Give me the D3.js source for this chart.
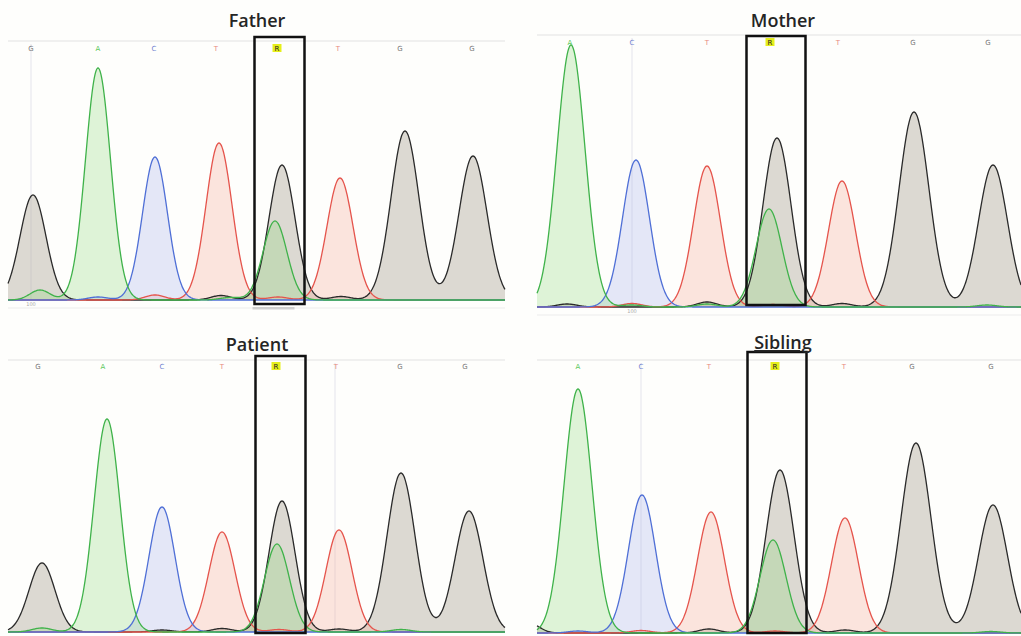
<!DOCTYPE html>
<html>
<head>
<meta charset="utf-8">
<script src="https://cdn.jsdelivr.net/npm/d3@7"></script>
<style>
  body { margin: 0; background: #fff; }
  svg { display: block; }
  .title { font-family: "Open Sans", sans-serif; font-size: 18px; font-weight: 600; fill: #252525; }
  .base { font-family: "DejaVu Sans", sans-serif; font-size: 7px; }
  .tick { font-family: "DejaVu Sans", sans-serif; font-size: 5px; fill: #aaa; }
</style>
</head>
<body>
<div id="chart"></div>
<script>
// sample names
const panelNames = ["Father", "Mother", "Patient", "Sibling"];

// called bases and their scan positions
const fatherBases = ["G", "A", "C", "T", "R", "T", "G", "G"];
const fatherBasePos = [23, 90, 146, 208, 269, 330, 392, 464];
const motherBases = ["A", "C", "T", "R", "T", "G", "G"];
const motherBasePos = [33, 95, 170, 233, 301, 376, 451];
const patientBases = ["G", "A", "C", "T", "R", "T", "G", "G"];
const patientBasePos = [30, 95, 154, 214, 268, 328, 392, 457];
const siblingBases = ["A", "C", "T", "R", "T", "G", "G"];
const siblingBasePos = [41, 104, 172, 238, 307, 375, 454];

// main peaks: channel, scan position, signal height, width
const fatherPeakCh = ["G", "A", "C", "T", "G", "A", "T", "G", "G"];
const fatherPeakPos = [25, 90, 147, 211, 274, 267, 332, 397, 465];
const fatherPeakHt = [420, 928, 572, 628, 540, 316, 488, 676, 576];
const fatherPeakW = [13, 12.5, 12.5, 13, 13, 12, 13, 14, 14];

const motherPeakCh = ["A", "C", "T", "G", "A", "T", "G", "G"];
const motherPeakPos = [34, 99, 170, 240, 232, 305, 377, 456];
const motherPeakHt = [1048, 588, 564, 676, 392, 504, 780, 568];
const motherPeakW = [14, 13.5, 13.5, 14, 13, 13.5, 15, 14.5];

const patientPeakCh = ["G", "A", "C", "T", "G", "A", "T", "G", "G"];
const patientPeakPos = [34, 99, 154, 214, 274, 269, 331, 393, 461];
const patientPeakHt = [276, 852, 500, 400, 524, 352, 408, 636, 484];
const patientPeakW = [13, 13, 13, 13, 13, 12.5, 13, 14, 14];

const siblingPeakCh = ["A", "C", "T", "G", "A", "T", "G", "G"];
const siblingPeakPos = [41, 105, 174, 243, 236, 308, 379, 456];
const siblingPeakHt = [976, 552, 484, 652, 372, 460, 760, 512];
const siblingPeakW = [14, 13.5, 13.5, 14, 13, 13.5, 15, 14.5];

// small background bumps
const fatherMinorCh = ["A", "C", "T", "G", "A", "T", "G"];
const fatherMinorPos = [32, 90, 147, 213, 222, 270, 333];
const fatherMinorHt = [40, 12, 20, 18, 10, 12, 14];

const motherMinorCh = ["G", "T", "A", "G", "A", "T", "G", "A"];
const motherMinorPos = [30, 95, 95, 170, 170, 236, 305, 450];
const motherMinorHt = [12, 14, 8, 20, 12, 10, 14, 8];

const patientMinorCh = ["A", "G", "G", "T", "G", "A"];
const patientMinorPos = [34, 154, 214, 271, 331, 393];
const patientMinorHt = [16, 8, 14, 10, 12, 10];

const siblingMinorCh = ["C", "T", "G", "T", "G", "A", "G"];
const siblingMinorPos = [41, 104, 172, 238, 308, 454, -8];
const siblingMinorHt = [8, 10, 16, 8, 12, 6, 40];

// cursor line scan per panel, and position tick label
const cursorPos = [23, 95, 327, 104];
const tickLabels = ["100", "100", "", ""];

const channels = ["G", "T", "C", "A"];
const lineColor = { A: "#3fb24a", C: "#4f6fd6", G: "#2a2a2a", T: "#e5544c" };
const fillColor = { A: "rgba(140,215,120,0.28)", C: "rgba(170,180,235,0.3)", G: "rgba(185,180,168,0.5)", T: "rgba(245,175,155,0.32)" };
const baseColor = { A: "#5cc85c", C: "#7080d0", G: "#777", T: "#e88a80", R: "#222" };

const width = 1021, height = 636;
const svg = d3.select("#chart").append("svg")
  .attr("width", width).attr("height", height);

svg.append("rect").attr("width", width).attr("height", height).attr("fill", "#fefefc");

// panel frames (pixels)
const layout = [
  { left: 8, right: 505, base: 300, top: 41, labY: 51, tx: 257, ty: 27, boxTop: 37, boxBot: 304, boxHalf: 25, boxShift: 1 },
  { left: 537, right: 1021, base: 307, top: 35, labY: 45, tx: 783, ty: 27, boxTop: 36, boxBot: 305, boxHalf: 29.5, boxShift: 3 },
  { left: 8, right: 505, base: 632, top: 360, labY: 369, tx: 257, ty: 351, boxTop: 356, boxBot: 633, boxHalf: 25, boxShift: 1 },
  { left: 537, right: 1021, base: 633, top: 360, labY: 369, tx: 783, ty: 349, boxTop: 352, boxBot: 633, boxHalf: 29.5, boxShift: 0.5 }
];

const panels = [
  { bases: fatherBases, basePos: fatherBasePos, ch: fatherPeakCh, pos: fatherPeakPos, ht: fatherPeakHt, w: fatherPeakW,
    mch: fatherMinorCh, mpos: fatherMinorPos, mht: fatherMinorHt },
  { bases: motherBases, basePos: motherBasePos, ch: motherPeakCh, pos: motherPeakPos, ht: motherPeakHt, w: motherPeakW,
    mch: motherMinorCh, mpos: motherMinorPos, mht: motherMinorHt },
  { bases: patientBases, basePos: patientBasePos, ch: patientPeakCh, pos: patientPeakPos, ht: patientPeakHt, w: patientPeakW,
    mch: patientMinorCh, mpos: patientMinorPos, mht: patientMinorHt },
  { bases: siblingBases, basePos: siblingBasePos, ch: siblingPeakCh, pos: siblingPeakPos, ht: siblingPeakHt, w: siblingPeakW,
    mch: siblingMinorCh, mpos: siblingMinorPos, mht: siblingMinorHt }
];

panels.forEach((p, i) => {
  const L = layout[i];
  const g = svg.append("g");

  const x = d3.scaleLinear().domain([0, L.right - L.left]).range([L.left, L.right]);
  const y = d3.scaleLinear().domain([0, 1000]).range([L.base, L.base - 250]);

  // peaks per channel (main + minor)
  const peaks = p.ch.map((c, k) => ({ c, pos: p.pos[k], ht: p.ht[k], w: p.w[k], main: true }))
    .concat(p.mch.map((c, k) => ({ c, pos: p.mpos[k], ht: p.mht[k], w: 10, main: false })));

  const scans = d3.range(0, L.right - L.left + 0.5, 1);
  const trace = ch => scans.map(s => ({
    s,
    v: d3.sum(peaks.filter(pk => pk.c === ch), pk => pk.ht * Math.exp(-0.5 * ((s - pk.pos) / pk.w) ** 2))
  }));

  // top rule and bottom rule
  g.append("line").attr("x1", L.left).attr("x2", L.right).attr("y1", L.top).attr("y2", L.top)
    .attr("stroke", "#e2e2e2").attr("stroke-width", 1);
  g.append("line").attr("x1", L.left).attr("x2", L.right).attr("y1", L.base + 8).attr("y2", L.base + 8)
    .attr("stroke", "#ececec").attr("stroke-width", 1);

  // cursor line
  g.append("line").attr("x1", x(cursorPos[i])).attr("x2", x(cursorPos[i]))
    .attr("y1", L.top + 3).attr("y2", L.base)
    .attr("stroke", "#e4e4ec").attr("stroke-width", 1);
  if (tickLabels[i]) {
    g.append("text").attr("class", "tick")
      .attr("x", x(cursorPos[i])).attr("y", L.base + 6)
      .attr("text-anchor", "middle").text(tickLabels[i]);
  }

  const area = d3.area().x(d => x(d.s)).y0(y(0)).y1(d => y(d.v)).curve(d3.curveMonotoneX);
  const line = d3.line().x(d => x(d.s)).y(d => y(d.v)).curve(d3.curveMonotoneX);

  const traces = channels.map(c => ({ c, data: trace(c) }));

  g.selectAll(".fill").data(traces).join("path")
    .attr("d", d => area(d.data))
    .attr("fill", d => fillColor[d.c]);

  g.selectAll(".trace").data(traces).join("path")
    .attr("d", d => line(d.data))
    .attr("fill", "none")
    .attr("stroke", d => lineColor[d.c])
    .attr("stroke-width", 1.3);

  // base calls
  const rIdx = p.bases.indexOf("R");
  p.bases.forEach((b, k) => {
    if (b === "R") {
      g.append("rect").attr("x", x(p.basePos[k]) - 4.5).attr("y", L.labY - 7)
        .attr("width", 9).attr("height", 8).attr("fill", "#e6ef1a");
    }
    g.append("text").attr("class", "base")
      .attr("x", x(p.basePos[k])).attr("y", L.labY)
      .attr("text-anchor", "middle")
      .attr("fill", baseColor[b])
      .text(b);
  });

  // highlight box around the heterozygous call
  const rPeaks = peaks.filter(pk => pk.main && Math.abs(pk.pos - p.basePos[rIdx]) < 12);
  const cx = x(d3.mean(rPeaks, pk => pk.pos)) + L.boxShift;
  if (i === 0) {
    g.append("rect").attr("x", cx - 27).attr("y", L.base + 7).attr("width", 42).attr("height", 2.5)
      .attr("fill", "#cfcfcf");
  }
  g.append("rect")
    .attr("x", cx - L.boxHalf).attr("y", L.boxTop)
    .attr("width", 2 * L.boxHalf).attr("height", L.boxBot - L.boxTop)
    .attr("fill", "none").attr("stroke", "#111").attr("stroke-width", 2.5);

  // title
  g.append("text").attr("class", "title")
    .attr("x", L.tx).attr("y", L.ty)
    .attr("text-anchor", "middle")
    .style("text-decoration", panelNames[i] === "Sibling" ? "underline" : null)
    .text(panelNames[i]);
});
</script>
</body>
</html>
